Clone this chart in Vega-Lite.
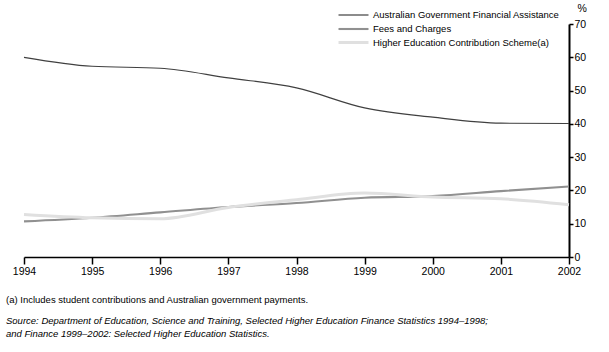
{
  "$schema": "https://vega.github.io/schema/vega-lite/v6.json",
  "autosize": "none",
  "width": 545,
  "height": 233,
  "padding": {"left": 24, "top": 24, "right": 40, "bottom": 95},
  "background": "white",
  "config": {"view": {"stroke": null}, "font": "Liberation Sans"},
  "title": {
    "text": "(a) Includes student contributions and Australian government payments.",
    "subtitle": ["Source: Department of Education, Science and Training, Selected Higher Education Finance Statistics 1994–1998;", "and Finance 1999–2002: Selected Higher Education Statistics."],
    "orient": "bottom",
    "anchor": "start",
    "frame": "group",
    "dx": -18,
    "offset": 18,
    "fontSize": 9.5,
    "fontWeight": "normal",
    "color": "black",
    "subtitleFontSize": 9.5,
    "subtitleColor": "black",
    "subtitleFontStyle": "italic",
    "subtitlePadding": 12,
    "subtitleLineHeight": 13,
    "font": "Liberation Sans",
    "subtitleFont": "Liberation Sans"
  },
  "data": {
    "values": [
      {"year": 1994, "series": "Australian Government Financial Assistance", "value": 60.0},
      {"year": 1995, "series": "Australian Government Financial Assistance", "value": 57.3},
      {"year": 1996, "series": "Australian Government Financial Assistance", "value": 56.7},
      {"year": 1997, "series": "Australian Government Financial Assistance", "value": 53.8},
      {"year": 1998, "series": "Australian Government Financial Assistance", "value": 50.8},
      {"year": 1999, "series": "Australian Government Financial Assistance", "value": 44.8},
      {"year": 2000, "series": "Australian Government Financial Assistance", "value": 42.0},
      {"year": 2001, "series": "Australian Government Financial Assistance", "value": 40.2},
      {"year": 2002, "series": "Australian Government Financial Assistance", "value": 40.1},
      {"year": 1994, "series": "Fees and Charges", "value": 10.7},
      {"year": 1995, "series": "Fees and Charges", "value": 11.8},
      {"year": 1996, "series": "Fees and Charges", "value": 13.4},
      {"year": 1997, "series": "Fees and Charges", "value": 15.0},
      {"year": 1998, "series": "Fees and Charges", "value": 16.2},
      {"year": 1999, "series": "Fees and Charges", "value": 17.8},
      {"year": 2000, "series": "Fees and Charges", "value": 18.3},
      {"year": 2001, "series": "Fees and Charges", "value": 19.8},
      {"year": 2002, "series": "Fees and Charges", "value": 21.2},
      {"year": 1994, "series": "Higher Education Contribution Scheme(a)", "value": 12.8},
      {"year": 1995, "series": "Higher Education Contribution Scheme(a)", "value": 11.8},
      {"year": 1996, "series": "Higher Education Contribution Scheme(a)", "value": 11.5},
      {"year": 1997, "series": "Higher Education Contribution Scheme(a)", "value": 14.9},
      {"year": 1998, "series": "Higher Education Contribution Scheme(a)", "value": 17.2},
      {"year": 1999, "series": "Higher Education Contribution Scheme(a)", "value": 19.2},
      {"year": 2000, "series": "Higher Education Contribution Scheme(a)", "value": 18.0},
      {"year": 2001, "series": "Higher Education Contribution Scheme(a)", "value": 17.5},
      {"year": 2002, "series": "Higher Education Contribution Scheme(a)", "value": 15.7}
    ]
  },
  "mark": {"type": "line", "interpolate": "monotone"},
  "encoding": {
    "x": {
      "field": "year", "type": "quantitative",
      "scale": {"domain": [1994, 2002], "nice": false, "zero": false},
      "axis": {
        "title": null, "format": "d", "values": [1994,1995,1996,1997,1998,1999,2000,2001,2002],
        "grid": false, "domainColor": "black", "domainWidth": 1.5, "tickColor": "black", "tickSize": 7, "tickWidth": 1.5,
        "labelColor": "black", "labelFontSize": 10.5, "labelPadding": 2, "labelFont": "Liberation Sans", "labelFlush": false
      }
    },
    "y": {
      "field": "value", "type": "quantitative",
      "scale": {"domain": [0, 70], "nice": false},
      "axis": {
        "orient": "right", "values": [0,10,20,30,40,50,60,70], "grid": false,
        "domainColor": "black", "domainWidth": 2, "tickColor": "black", "tickSize": 4, "tickWidth": 1.5,
        "labelColor": "black", "labelFontSize": 10.5, "labelPadding": 1, "labelFont": "Liberation Sans",
        "title": "%", "titleAngle": 0, "titleX": 8, "titleY": -16, "titleAlign": "left", "titleBaseline": "middle",
        "titleFontWeight": "normal", "titleFontSize": 10.5, "titleColor": "black", "titleFont": "Liberation Sans"
      }
    },
    "color": {
      "field": "series", "type": "nominal",
      "scale": {
        "domain": ["Australian Government Financial Assistance", "Fees and Charges", "Higher Education Contribution Scheme(a)"],
        "range": ["#404040", "#909090", "#e0e0e0"]
      },
      "legend": {
        "title": null, "orient": "none", "legendX": 323, "legendY": -15,
        "symbolType": "M-3,0H3", "symbolSize": 100, "rowPadding": 2.5, "labelFontSize": 9.5, "labelColor": "black",
        "labelFont": "Liberation Sans", "labelOffset": 13, "labelLimit": 400
      }
    },
    "strokeWidth": {
      "field": "series", "type": "nominal",
      "scale": {
        "domain": ["Australian Government Financial Assistance", "Fees and Charges", "Higher Education Contribution Scheme(a)"],
        "range": [1.2, 3, 3]
      },
      "legend": {
        "title": null, "orient": "none", "legendX": 323, "legendY": -15,
        "symbolType": "M-3,0H3", "symbolSize": 100, "rowPadding": 2.5, "labelFontSize": 9.5, "labelColor": "black",
        "labelFont": "Liberation Sans", "labelOffset": 13, "labelLimit": 400
      }
    }
  }
}
